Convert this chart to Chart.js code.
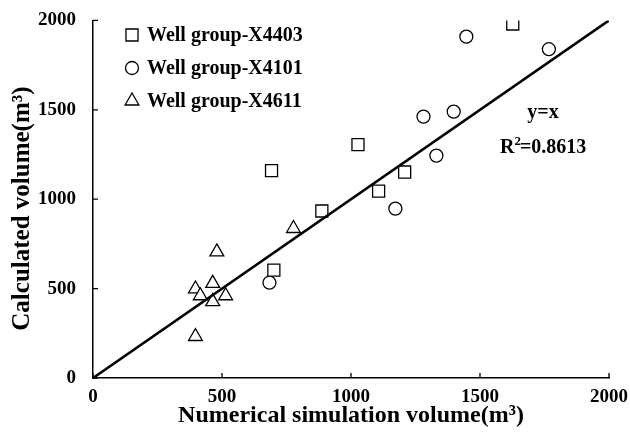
<!DOCTYPE html>
<html>
<head>
<meta charset="utf-8">
<script src="https://cdn.jsdelivr.net/npm/chart.js@4/dist/chart.umd.min.js"></script>
<style>
  html, body { margin: 0; padding: 0; background: #fff; }
  #wrap { width: 630px; height: 440px; }
</style>
</head>
<body>
<div id="wrap"><canvas id="chart" width="630" height="440"></canvas></div>
<script>
/* ---- data ---- */
const xTicks = [0, 500, 1000, 1500, 2000];
const yTicks = [0, 500, 1000, 1500, 2000];

const x4403 = [[692, 1160], [701, 603], [887, 934], [1027, 1305], [1107, 1045], [1208, 1152], [1627, 1980]];
const x4101 = [[684, 533], [1172, 947], [1281, 1462], [1331, 1244], [1398, 1490], [1447, 1909], [1767, 1839]];
const x4611 = [[397, 232], [397, 498], [416, 460], [464, 529], [464, 427], [480, 705], [514, 460], [777, 836]];
const fitLine = [[0, 0], [2000, 2000]];

const FONT = "'Liberation Serif', 'Times New Roman', serif";
const pts = arr => arr.map(p => ({ x: p[0], y: p[1] }));

function scatterSet(label, data, style, radius) {
  return {
    type: 'scatter', label, data: pts(data),
    pointStyle: style, pointRadius: radius, pointHoverRadius: radius,
    pointBackgroundColor: '#fff', pointBorderColor: '#000', pointBorderWidth: 1.3
  };
}

/* ticks pointing inward */
const innerTicks = {
  id: 'innerTicks',
  afterDraw(chart) {
    const { ctx, scales: { x, y } } = chart;
    ctx.save();
    ctx.strokeStyle = '#000';
    ctx.lineWidth = 1.3;
    ctx.beginPath();
    xTicks.forEach(v => {
      const px = x.getPixelForValue(v);
      ctx.moveTo(px, y.bottom); ctx.lineTo(px, y.bottom - 5);
    });
    yTicks.forEach(v => {
      const py = y.getPixelForValue(v);
      ctx.moveTo(x.left, py); ctx.lineTo(x.left + 5, py);
    });
    ctx.stroke();
    ctx.restore();
  }
};

/* legend inside the plot, upper left */
const innerLegend = {
  id: 'innerLegend',
  afterDraw(chart) {
    const { ctx } = chart;
    ctx.save();
    ctx.font = 'bold 20px ' + FONT;
    ctx.textBaseline = 'middle';
    chart.data.datasets.filter(d => d.type === 'scatter').forEach((d, i) => {
      const cy = 35 + i * 33;
      ctx.strokeStyle = '#000';
      ctx.lineWidth = 1.3;
      ctx.fillStyle = '#fff';
      Chart.helpers.drawPoint(ctx, { pointStyle: d.pointStyle, radius: d.pointRadius, borderWidth: 1.3 }, 132, cy);
      ctx.fillStyle = '#000';
      ctx.fillText(d.label, 147, cy + 1);
    });
    ctx.restore();
  }
};

/* fit annotation */
const fitNote = {
  id: 'fitNote',
  afterDraw(chart) {
    const { ctx } = chart;
    ctx.save();
    ctx.fillStyle = '#000';
    ctx.textBaseline = 'alphabetic';
    ctx.font = 'bold 20px ' + FONT;
    ctx.textAlign = 'center';
    ctx.fillText('y=x', 543, 118);
    ctx.textAlign = 'left';
    const x0 = 500, base = 153;
    ctx.fillText('R', x0, base);
    const w = ctx.measureText('R').width;
    ctx.font = 'bold 13px ' + FONT;
    ctx.fillText('2', x0 + w, base - 8);
    const w2 = ctx.measureText('2').width;
    ctx.font = 'bold 20px ' + FONT;
    ctx.fillText('=0.8613', x0 + w + w2 - 1, base);
    ctx.restore();
  }
};

new Chart(document.getElementById('chart'), {
  data: {
    datasets: [
      { type: 'line', label: 'y=x', data: pts(fitLine), borderColor: '#000', borderWidth: 2.6,
        pointRadius: 0, fill: false, tension: 0 },
      scatterSet('Well group-X4403', x4403, 'rect', 8.5),
      scatterSet('Well group-X4101', x4101, 'circle', 6.5),
      scatterSet('Well group-X4611', x4611, 'triangle', 8)
    ]
  },
  options: {
    responsive: false,
    animation: false,
    layout: { padding: { top: 19, right: 21, left: 0, bottom: 0 } },
    plugins: { legend: { display: false }, tooltip: { enabled: false } },
    scales: {
      x: {
        type: 'linear', min: 0, max: 2000,
        afterBuildTicks: s => { s.ticks = xTicks.map(v => ({ value: v })); },
        afterFit: s => { s.height = 62; s.paddingLeft = 0; s.paddingRight = 0; },
        grid: { display: false },
        border: { display: true, color: '#000', width: 1.5 },
        ticks: { color: '#000', padding: 0, callback: v => String(v),
                 font: { family: FONT, size: 19, weight: 'bold' } },
        title: { display: true, text: 'Numerical simulation volume(m³)', color: '#000',
                 padding: { top: 0, bottom: 10 }, font: { family: FONT, size: 24, weight: 'bold' } }
      },
      y: {
        type: 'linear', min: 0, max: 2000,
        afterBuildTicks: s => { s.ticks = yTicks.map(v => ({ value: v })); },
        afterFit: s => { s.width = 93; },
        grid: { display: false },
        border: { display: true, color: '#000', width: 1.5 },
        ticks: { color: '#000', padding: 9, callback: v => String(v),
                 font: { family: FONT, size: 19, weight: 'bold' } },
        title: { display: true, text: 'Calculated volume(m³)   ', color: '#000',
                 padding: { top: 8, bottom: 0 }, font: { family: FONT, size: 25, weight: 'bold' } }
      }
    }
  },
  plugins: [innerTicks, innerLegend, fitNote]
});
</script>
</body>
</html>
